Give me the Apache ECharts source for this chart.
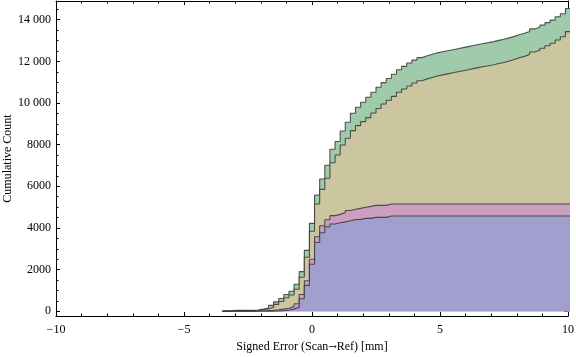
<!DOCTYPE html>
<html><head><meta charset="utf-8">
<script src="https://cdn.jsdelivr.net/npm/echarts@6/dist/echarts.min.js"></script>
<style>html,body{margin:0;padding:0;background:#fff}#c{width:576px;height:357px}</style>
</head><body><div id="c"></div>
<script>
// Histogram bins (mm): first bin left edge and width
const binStart = -3.5;
const binWidth = 0.2;

const seriesNames = ['Group 1', 'Group 2', 'Group 3', 'Group 4'];
// Cumulative counts per bin for each stacked group (bottom to top)
const blueCounts = [0,0,0,0,0,0,0,0,0,5,15,30,55,100,195,600,1240,2256,3300,3766,4055,4190,4247,4290,4343,4400,4411,4459,4459,4507,4507,4507,
  4574,4574,4574,4574,4574,4574,4574,4574,4574,4574,4574,4574,4574,4574,4574,4574,4574,4574,4574,4574,4574,4574,4574,4574,4574,4574,4574,4574,4574,4574,4574,4574,4574,4574,4574,4574];
const pinkCounts = [0,0,0,0,5,5,10,20,30,40,55,70,85,121,165,200,220,240,274,337,340,400,404,450,497,500,529,531,
  576,576,576,576,576,576,576,576,576,576,576,576,576,576,576,576,576,576,576,576,576,576,576,576,576,576,576,576,576,576,576,576,576,576,576,576,576,576,576,576];
const oliveCounts = [5,25,30,30,30,30,35,60,80,145,260,370,510,561,696,832,1132,1344,1573,1750,1993,2543,2849,3245,3467,3772,3973,4115,4264,4436,4656,4867,
  4980,5170,5370,5520,5670,5810,5920,6010,6080,6150,6200,6250,6300,6350,6400,6450,6500,6550,6600,6640,6690,6750,6800,6870,6940,7020,7090,7180,7300,7380,7480,7600,7720,7880,8030,8280];
const greenCounts = [5,10,10,10,10,10,15,20,40,90,120,140,150,178,240,268,328,380,433,496,625,645,650,673,769,837,887,935,980,1000,1020,1030,1050,1060,1080,1090,1100,1100,
  1110,1110,1110,1110,1110,1110,1110,1110,1110,1110,1110,1110,1110,1110,1110,1110,1110,1110,1110,1110,1110,1110,1110,1110,1110,1110,1110,1110,1110,1110];

const fillColors = ['#a09fcd', '#cb9fbd', '#cbc69f', '#9fcbab'];

const xMin = -10, xMax = 10, xInterval = 5;
const yMin = -230, yMax = 14900, yInterval = 2000;

// stack the groups (running sums), bottom group first
const groups = [blueCounts, pinkCounts, oliveCounts, greenCounts];
const stackedTops = [];
groups.forEach((vals, k) => {
  stackedTops.push(vals.map((v, i) => v + (k > 0 ? stackedTops[k - 1][i] : 0)));
});

function toSteps(vals) {
  const pts = vals.map((v, i) => [+(binStart + i * binWidth).toFixed(4), v]);
  pts.push([+(binStart + vals.length * binWidth).toFixed(4), vals[vals.length - 1]]);
  return pts;
}

const font = '"Liberation Serif","Times New Roman",serif';
const baseAxis = {
  type: 'value',
  axisLine: { show: true, onZero: false, lineStyle: { color: '#000', width: 1 } },
  splitLine: { show: false },
  axisTick: { show: true, inside: true, length: 4, lineStyle: { color: '#000', width: 1 } },
  minorTick: { show: true, length: 2.5, lineStyle: { color: '#000', width: 1 } },
  minorSplitLine: { show: false }
};
const fmtX = v => (v < 0 ? '\u2212' + Math.abs(v) : String(v));
const fmtY = v => (v >= 10000 ? String(v).replace(/(\d)(?=(\d{3})$)/, '$1 ') : String(v));

// draw top group first so each lower group's opaque area covers the one above it
const series = [];
for (let k = groups.length - 1; k >= 0; k--) {
  series.push({
    name: seriesNames[k],
    type: 'line',
    step: 'end',
    symbol: 'none',
    data: toSteps(stackedTops[k]),
    lineStyle: { color: 'rgba(55,55,55,0.85)', width: 1.1 },
    areaStyle: { color: fillColors[k], opacity: 1, origin: 0 },
    itemStyle: { color: fillColors[k] },
    z: 2 + (groups.length - 1 - k)
  });
}

const chart = echarts.init(document.getElementById('c'), null, { renderer: 'canvas' });
chart.setOption({
  animation: false,
  backgroundColor: '#fff',
  grid: { left: 56, right: 8, top: 1, bottom: 41, containLabel: false, outerBoundsMode: 'none' },
  xAxis: [
    Object.assign({}, baseAxis, {
      position: 'bottom', min: xMin, max: xMax, interval: xInterval,
      minorTick: Object.assign({}, baseAxis.minorTick, { splitNumber: 5 }),
      axisLabel: { margin: 8, fontFamily: font, fontSize: 12, color: '#000', formatter: fmtX },
      name: '{a|Signed Error (Scan}{b|\u2192}{a|Ref) [mm]}', nameLocation: 'middle', nameGap: 25,
      nameMoveOverlap: false,
      nameTextStyle: { fontFamily: font, fontSize: 12, color: '#000',
        rich: { a: { fontFamily: font, fontSize: 12, color: '#000' }, b: { fontFamily: '"DejaVu Serif",serif', fontSize: 10, color: '#000' } } }
    }),
    Object.assign({}, baseAxis, {
      position: 'top', min: xMin, max: xMax, interval: xInterval,
      minorTick: Object.assign({}, baseAxis.minorTick, { splitNumber: 5 }),
      axisLabel: { show: false }
    })
  ],
  yAxis: [
    Object.assign({}, baseAxis, {
      position: 'left', min: yMin, max: yMax, minInterval: yInterval, maxInterval: yInterval, splitNumber: 7,
      minorTick: Object.assign({}, baseAxis.minorTick, { splitNumber: 4 }),
      axisLabel: { margin: 5, fontFamily: font, fontSize: 12, color: '#000', formatter: fmtY, showMinLabel: false, showMaxLabel: false },
      name: 'Cumulative Count', nameLocation: 'middle', nameGap: 42, nameRotate: 90,
      nameMoveOverlap: false,
      nameTextStyle: { fontFamily: font, fontSize: 12, color: '#000' }
    }),
    Object.assign({}, baseAxis, {
      position: 'right', min: yMin, max: yMax, minInterval: yInterval, maxInterval: yInterval, splitNumber: 7,
      minorTick: Object.assign({}, baseAxis.minorTick, { splitNumber: 4 }),
      axisLabel: { show: false }
    })
  ],
  series: series
});
</script></body></html>
